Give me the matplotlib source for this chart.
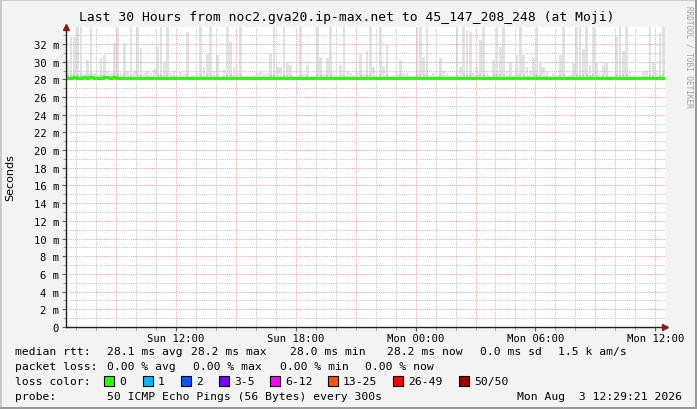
import numpy as np
import matplotlib
matplotlib.use("Agg")
import matplotlib.pyplot as plt
from matplotlib.patches import Rectangle

# 10 minute bins, start Sun 06:29:21 (hours since Sun 00:00)
start = 6 + 29 / 60 + 21 / 3600
step = 1 / 6

# top of the smoke per bin (ms)
smoke_max = [
    30.2, 32.8, 32.8, 34.5, 34.5, 28.7, 30.2, 34.5, 28.7, 28.5,
    30.4, 30.8, 29.0, 28.7, 32.1, 34.5, 28.7, 32.1, 29.0, 34.5,
    29.0, 34.5, 31.5, 28.7, 29.0, 28.7, 29.2, 31.7, 34.5, 29.8,
    34.5, 28.7, 29.0, 28.5, 28.8, 28.7, 33.4, 28.4, 28.5, 28.7,
    34.5, 29.4, 30.9, 34.5, 29.0, 30.8, 28.4, 29.2, 34.5, 32.2,
    29.4, 28.7, 34.5, 28.3, 28.4, 28.3, 28.5, 28.7, 28.8, 28.7,
    28.7, 30.9, 34.5, 29.4, 29.4, 34.5, 29.8, 29.6, 28.3, 28.5,
    34.5, 28.7, 29.6, 28.4, 28.3, 34.5, 30.5, 28.7, 30.4, 34.5,
    28.7, 28.4, 29.6, 34.5, 29.0, 28.7, 28.5, 28.7, 30.9, 28.7,
    31.2, 34.5, 29.4, 28.4, 34.5, 29.4, 31.9, 28.3, 28.5, 28.7,
    30.2, 28.7, 28.7, 28.3, 28.4, 34.5, 34.5, 30.5, 34.5, 28.5,
    28.7, 28.4, 30.4, 29.0, 28.7, 28.4, 28.5, 34.5, 29.4, 34.5,
    33.6, 33.4, 28.7, 29.4, 32.4, 34.5, 28.7, 28.3, 30.2, 34.5,
    31.7, 34.5, 29.0, 29.8, 28.5, 30.8, 34.5, 30.8, 29.4, 29.0,
    30.4, 34.5, 29.8, 29.4, 29.0, 28.4, 28.7, 28.5, 30.8, 34.5,
    28.3, 28.5, 29.8, 34.5, 34.5, 31.4, 34.5, 29.6, 34.5, 29.8,
    28.7, 29.6, 29.8, 28.4, 28.5, 32.8, 34.5, 31.2, 34.5, 28.8,
    28.5, 28.5, 28.4, 29.0, 29.0, 34.5, 29.8, 28.7, 33.2, 34.5,
]

# median rtt per bin (ms)
median = [
    28.10, 28.10, 28.22, 28.10, 28.10, 28.22, 28.10, 28.22, 28.10, 28.10,
    28.10, 28.22, 28.22, 28.10, 28.22, 28.10, 28.10, 28.10, 28.10, 28.10,
    28.10, 28.10, 28.10, 28.10, 28.10, 28.10, 28.10, 28.10, 28.10, 28.10,
    28.10, 28.10, 28.10, 28.10, 28.10, 28.10, 28.10, 28.10, 28.10, 28.10,
    28.10, 28.10, 28.10, 28.10, 28.10, 28.10, 28.10, 28.10, 28.10, 28.10,
    28.10, 28.10, 28.10, 28.10, 28.10, 28.10, 28.10, 28.10, 28.10, 28.10,
    28.10, 28.10, 28.10, 28.10, 28.10, 28.10, 28.10, 28.10, 28.10, 28.10,
    28.10, 28.10, 28.10, 28.10, 28.10, 28.10, 28.10, 28.10, 28.10, 28.10,
    28.10, 28.10, 28.10, 28.10, 28.10, 28.10, 28.10, 28.10, 28.10, 28.10,
    28.10, 28.10, 28.10, 28.10, 28.10, 28.10, 28.10, 28.10, 28.10, 28.10,
    28.10, 28.10, 28.10, 28.10, 28.10, 28.10, 28.10, 28.10, 28.10, 28.10,
    28.10, 28.10, 28.10, 28.10, 28.10, 28.10, 28.10, 28.10, 28.10, 28.10,
    28.10, 28.10, 28.10, 28.16, 28.10, 28.10, 28.10, 28.10, 28.10, 28.10,
    28.10, 28.10, 28.10, 28.10, 28.10, 28.10, 28.10, 28.10, 28.10, 28.10,
    28.10, 28.10, 28.10, 28.10, 28.10, 28.16, 28.10, 28.10, 28.10, 28.10,
    28.10, 28.10, 28.10, 28.10, 28.10, 28.10, 28.10, 28.16, 28.10, 28.10,
    28.10, 28.10, 28.10, 28.10, 28.10, 28.10, 28.10, 28.10, 28.10, 28.10,
    28.10, 28.10, 28.10, 28.10, 28.16, 28.10, 28.10, 28.10, 28.10, 28.20,
]

xtick_pos = [12, 18, 24, 30, 36]
xtick_labels = ["Sun 12:00", "Sun 18:00", "Mon 00:00", "Mon 06:00", "Mon 12:00"]
ytick_vals = list(range(0, 34, 2))

title = "Last 30 Hours from noc2.gva20.ip-max.net to 45_147_208_248 (at Moji)"
loss_labels = ["0", "1", "2", "3-5", "6-12", "13-25", "26-49", "50/50"]
loss_colors = ["#26ff00", "#00b8ff", "#0059ff", "#7e00ff", "#ff00ff", "#ff5500", "#ff0000", "#a10000"]

W, H = 697, 410
mono = "DejaVu Sans Mono"

fig = plt.figure(figsize=(W / 100, H / 100), dpi=100, facecolor="#f3f3f3")
ax = fig.add_axes([66 / W, 82 / H, 599 / W, 300 / H])
ax.set_facecolor("white")

t = start + np.arange(len(smoke_max)) * step
smax = np.array(smoke_max)
med = np.array(median)

# smoke: spikes on top of a low band
ax.bar(t + step * 0.5, smax - med, bottom=med, width=step * 0.8, color="#e2e2e2", linewidth=0, zorder=2)
low = np.minimum(smax - med, 0.35)
ax.bar(t, low, bottom=med, width=step, align="edge", color="#e8e8e8", linewidth=0, zorder=2)
inner = np.minimum((smax - med) * 0.25, 0.5)
ax.bar(t + step * 0.5, inner, bottom=med, width=step * 0.6, color="#cccccc", linewidth=0, zorder=2.1)

# median line
ax.step(np.append(t, t[-1] + step), np.append(med, med[-1]), where="post",
        color="#26ff00", linewidth=2.2, zorder=4)

ax.set_xlim(start, start + 30)
ax.set_ylim(0, 300 / 8.844)

# grid drawn over the smoke, as rrdtool does
for h in range(7, 37):
    major = h % 3 == 0
    ax.axvline(h, color="#f5a8a8" if major else "#c8c8c8", linestyle=(0, (1, 1)),
               linewidth=0.75, zorder=3.1 if major else 3)
for v in range(1, 34):
    major = v % 2 == 0
    ax.axhline(v, color="#f5a8a8" if major else "#c8c8c8", linestyle=(0, (1, 1)),
               linewidth=0.75, zorder=3.1 if major else 3)

ax.set_xticks(xtick_pos)
ax.set_xticklabels(xtick_labels, fontfamily=mono, fontsize=7.6)
ax.set_xticks(range(7, 37), minor=True)
ax.set_yticks(ytick_vals)
ax.set_yticklabels(["0" if v == 0 else f"{v} m" for v in ytick_vals], fontfamily=mono, fontsize=7.6)
ax.set_yticks(range(1, 34), minor=True)
ax.tick_params(axis="both", which="major", length=3, width=0.8, color="#606060", pad=2)
ax.tick_params(axis="both", which="minor", length=2, width=0.6, color="#909090")
ax.tick_params(axis="x", which="major", pad=1.5)

for s in ["top", "right"]:
    ax.spines[s].set_visible(False)
for s in ["left", "bottom"]:
    ax.spines[s].set_color("#202020")
    ax.spines[s].set_linewidth(1.0)
    ax.spines[s].set_zorder(5)

# axis arrows
ax.plot([0], [1.0], marker="^", color="#8b1a1a", markersize=5, transform=ax.transAxes, clip_on=False, zorder=6)
ax.plot([1.0], [0], marker=">", color="#8b1a1a", markersize=5, transform=ax.transAxes, clip_on=False, zorder=6)


def px(x, y):
    return x / W, 1 - y / H


fig.text(*px(347, 18), title, fontfamily=mono, fontsize=9.4, ha="center", va="center")
fig.text(*px(10, 178), "Seconds", fontfamily="DejaVu Sans", fontsize=8, rotation=90, ha="center", va="center")
fig.text(*px(689, 6), "RRDTOOL / TOBI OETIKER", fontfamily=mono, fontsize=5.5, rotation=270,
         ha="center", va="top", color="#a0a0a0")

fs = 8.2
rows = [
    (352, [(15, "median rtt:"), (107, "28.1 ms avg"), (191, "28.2 ms max"), (290, "28.0 ms min"),
           (387, "28.2 ms now"), (480, "0.0 ms sd"), (558, "1.5 k am/s")]),
    (367, [(15, "packet loss:"), (107, "0.00 % avg"), (193, "0.00 % max"), (280, "0.00 % min"),
           (365, "0.00 % now")]),
    (397, [(15, "probe:"), (107, "50 ICMP Echo Pings (56 Bytes) every 300s")]),
]
for y, items in rows:
    for x, s in items:
        fig.text(*px(x, y), s, fontfamily=mono, fontsize=fs, ha="left", va="center")
fig.text(*px(682, 397), "Mon Aug  3 12:29:21 2026", fontfamily=mono, fontsize=fs, ha="right", va="center")

fig.text(*px(15, 382), "loss color:", fontfamily=mono, fontsize=fs, ha="left", va="center")
box_x = [104, 143, 181, 219, 270, 328, 393, 459]
for bx, lab, col in zip(box_x, loss_labels, loss_colors):
    fig.patches.append(Rectangle((bx / W, 1 - 387 / H), 10 / W, 10 / H, transform=fig.transFigure,
                                 facecolor=col, edgecolor="black", linewidth=0.8))
    fig.text(*px(bx + 15, 382), lab, fontfamily=mono, fontsize=fs, ha="left", va="center")

# 3d frame
fig.patches.append(Rectangle((0, 0), 1, 1, transform=fig.transFigure, fill=False,
                             edgecolor="#c8c8c8", linewidth=2))
fig.patches.append(Rectangle((0, 0), 1, 2 / H, transform=fig.transFigure, facecolor="#9a9a9a", linewidth=0))
fig.patches.append(Rectangle((1 - 2 / W, 0), 2 / W, 1, transform=fig.transFigure, facecolor="#9a9a9a", linewidth=0))

fig.savefig("out.png", dpi=100, facecolor=fig.get_facecolor())
